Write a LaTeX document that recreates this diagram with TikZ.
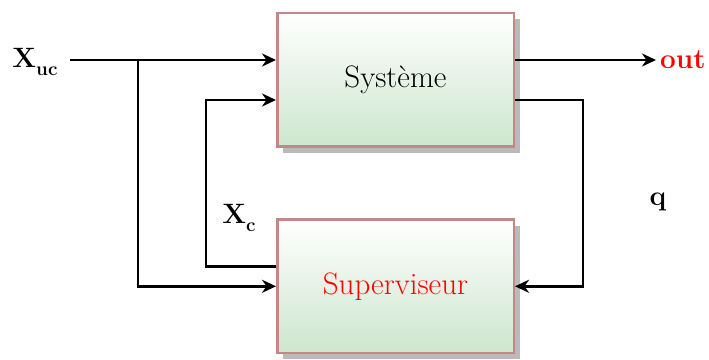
\documentclass[tikz,border=0pt]{standalone}
\usepackage{fontspec}
\usetikzlibrary{shadows,arrows.meta,calc}
\definecolor{bordc}{RGB}{198,134,134}
\definecolor{greenb}{RGB}{205,230,205}
\newcommand{\lblsub}[2]{#1\raisebox{-0.28em}{\fontsize{19}{21}\selectfont\bfseries #2}}
\begin{document}
\begin{tikzpicture}[x=1pt,y=1pt,
  blk/.style={draw=bordc, line width=2.5pt, minimum width=236.5pt, minimum height=133.5pt,
    top color=white, bottom color=greenb, inner sep=0pt,
    drop shadow={shadow xshift=6pt, shadow yshift=-6pt, fill=black!27, opacity=1},
    font=\fontsize{31}{36}\selectfont},
  conn/.style={line width=2.8pt, -{Stealth[length=14pt,width=13pt,inset=4.5pt]}},
  lbl/.style={font=\fontsize{28}{32}\selectfont\bfseries, inner sep=2pt}]
\useasboundingbox (0,0) rectangle (709,359);
\node[blk] (sys) at (395.5,279) {Système};
\node[blk, text=red] (sup) at (395.5,72.7) {Superviseur};
\node[lbl] (xuc) at (35,297) {\lblsub{X}{uc}};
\node[lbl] (xc) at (239,141) {\lblsub{X}{c}};
\node[lbl] (q) at (658,157) {q};
\node[lbl, text=red, anchor=west, inner sep=4pt] (out) at (656,299) {out};
\coordinate (in) at (70,299);
\coordinate (br) at (138,299);
\draw[conn] (in) -- (in -| sys.west);
\draw[conn] (br) |- (sup.west);
\draw[conn] ([yshift=20pt]sup.west) -- ++(-70,0) |- ([yshift=-20pt]sys.west);
\draw[conn] ([yshift=20pt]sys.east) -- (out.west);
\draw[conn] ([yshift=-20pt]sys.east) -- ++(68,0) |- (sup.east);
\end{tikzpicture}
\end{document}
